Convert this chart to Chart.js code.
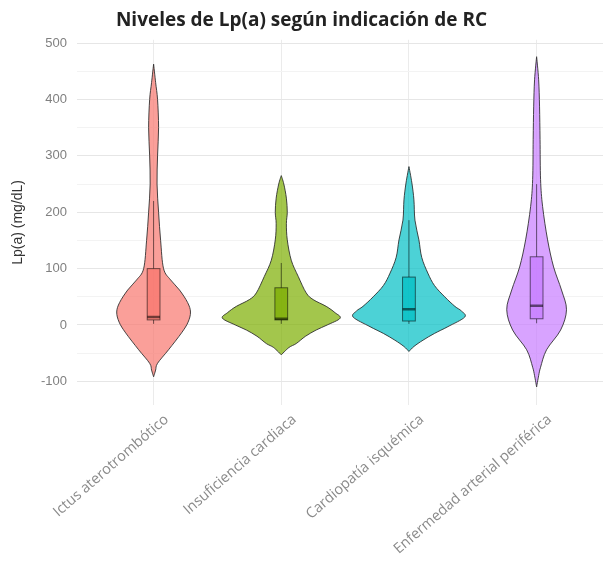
<!DOCTYPE html>
<html>
<head>
<meta charset="utf-8">
<script src="https://cdn.jsdelivr.net/npm/chart.js@4.4.1/dist/chart.umd.min.js"></script>
<style>
  html, body { margin: 0; padding: 0; background: #fff; }
  #wrap { width: 603px; height: 573px; }
</style>
</head>
<body>
<div id="wrap"><canvas id="myChart"></canvas></div>
<script>
const categories = ["Ictus aterotrombótico", "Insuficiencia cardiaca", "Cardiopatía isquémica", "Enfermedad arterial periférica"];
const yTicks = [-100, 0, 100, 200, 300, 400, 500];

// violin outline: Lp(a) value and half width (in category units)
const ictusY = [-92, -80, -68, -44, -14, 5, 23, 40, 62, 80, 100, 150, 200, 250, 300, 350, 400, 430, 463];
const ictusW = [0, 0.016, 0.031, 0.117, 0.219, 0.27, 0.289, 0.266, 0.203, 0.133, 0.078, 0.055, 0.039, 0.027, 0.031, 0.039, 0.031, 0.016, 0];
const insufY = [-53, -40, -33, -20, -9, 0, 12, 22, 33, 45, 57, 86, 115, 151, 180, 200, 225, 250, 265];
const insufW = [0, 0.06, 0.117, 0.19, 0.273, 0.36, 0.461, 0.42, 0.352, 0.25, 0.195, 0.133, 0.078, 0.047, 0.04, 0.047, 0.04, 0.02, 0];
const cardioY = [-47, -38, -27, -15, -3, 14, 25, 33, 50, 70, 92, 120, 151, 186, 222, 252, 281];
const cardioW = [0, 0.04, 0.11, 0.2, 0.305, 0.437, 0.41, 0.36, 0.28, 0.2, 0.148, 0.1, 0.078, 0.047, 0.039, 0.023, 0];
const eapY = [-110, -90, -75, -44, -9, 27, 62, 103, 151, 210, 258, 329, 387, 435, 476];
const eapW = [0, 0.016, 0.031, 0.078, 0.188, 0.234, 0.195, 0.133, 0.086, 0.047, 0.031, 0.027, 0.023, 0.016, 0];

// box plot stats
const whiskerLow = [2, 2, 2, 3];
const q1 = [9, 9, 7, 11];
const median = [14, 11, 28, 34];
const q3 = [100, 66, 85, 121];
const whiskerHigh = [220, 110, 186, 250];

const baseColors = ["248,118,109", "124,174,0", "0,191,196", "199,124,255"];

const violinY = [ictusY, insufY, cardioY, eapY];
const violinW = [ictusW, insufW, cardioW, eapW];

// closed Catmull-Rom path, sharp at the tip points
function smoothClosed(ctx, pts, tips) {
  const n = pts.length;
  ctx.moveTo(pts[0][0], pts[0][1]);
  for (let i = 0; i < n; i++) {
    const i2 = (i + 1) % n;
    const p0 = pts[(i - 1 + n) % n], p1 = pts[i], p2 = pts[i2], p3 = pts[(i + 2) % n];
    const c1 = tips.includes(i) ? p1 : [p1[0] + (p2[0] - p0[0]) / 6, p1[1] + (p2[1] - p0[1]) / 6];
    const c2 = tips.includes(i2) ? p2 : [p2[0] - (p3[0] - p1[0]) / 6, p2[1] - (p3[1] - p1[1]) / 6];
    ctx.bezierCurveTo(c1[0], c1[1], c2[0], c2[1], p2[0], p2[1]);
  }
  ctx.closePath();
}

const violinPlugin = {
  id: "violins",
  beforeDatasetsDraw(chart) {
    const { ctx, chartArea, scales: { x, y } } = chart;
    ctx.save();
    ctx.beginPath();
    ctx.rect(chartArea.left, chartArea.top, chartArea.width, chartArea.height);
    ctx.clip();
    categories.forEach((c, i) => {
      const pos = i + 1;
      const ys = violinY[i], ws = violinW[i];
      const pts = [];
      for (let k = 0; k < ys.length; k++) pts.push([x.getPixelForValue(pos + ws[k]), y.getPixelForValue(ys[k])]);
      for (let k = ys.length - 2; k > 0; k--) pts.push([x.getPixelForValue(pos - ws[k]), y.getPixelForValue(ys[k])]);
      ctx.beginPath();
      smoothClosed(ctx, pts, [0, ys.length - 1]);
      ctx.fillStyle = "rgba(" + baseColors[i] + ",0.7)";
      ctx.fill();
      ctx.lineWidth = 1;
      ctx.strokeStyle = "rgba(40,40,40,0.85)";
      ctx.stroke();

      // box plot
      const bw = 0.05;
      const xl = x.getPixelForValue(pos - bw), xr = x.getPixelForValue(pos + bw), xc = x.getPixelForValue(pos);
      const yq1 = y.getPixelForValue(q1[i]), yq3 = y.getPixelForValue(q3[i]);
      ctx.strokeStyle = "rgba(0,0,0,0.55)";
      ctx.beginPath();
      ctx.moveTo(xc, yq3); ctx.lineTo(xc, y.getPixelForValue(whiskerHigh[i]));
      ctx.moveTo(xc, yq1); ctx.lineTo(xc, y.getPixelForValue(whiskerLow[i]));
      ctx.stroke();
      ctx.fillStyle = "rgba(" + baseColors[i] + ",0.75)";
      ctx.fillRect(xl, yq3, xr - xl, yq1 - yq3);
      ctx.strokeRect(xl, yq3, xr - xl, yq1 - yq3);
      ctx.lineWidth = 2.5;
      ctx.beginPath();
      ctx.moveTo(xl, y.getPixelForValue(median[i]));
      ctx.lineTo(xr, y.getPixelForValue(median[i]));
      ctx.stroke();
    });
    ctx.restore();
  }
};

const yGrid = yTicks.concat(yTicks.slice(1).map((v, i) => (v + yTicks[i]) / 2)).sort((a, b) => a - b);

new Chart("myChart", {
  type: "scatter",
  data: {
    datasets: [{
      data: median.map((m, i) => ({ x: i + 1, y: m })),
      pointRadius: 0,
      showLine: false
    }]
  },
  options: {
    responsive: true,
    maintainAspectRatio: false,
    animation: false,
    layout: { padding: 0 },
    plugins: {
      legend: { display: false },
      tooltip: { enabled: false },
      title: {
        display: true,
        text: "Niveles de Lp(a) según indicación de RC",
        color: "#222",
        font: { family: "Open Sans", weight: "bold", size: 19 },
        padding: { top: 9, bottom: 8 }
      }
    },
    scales: {
      x: {
        type: "linear",
        min: 0.4,
        max: 4.52,
        afterBuildTicks: s => { s.ticks = categories.map((c, i) => ({ value: i + 1 })); },
        afterFit: s => { s.height = 168; },
        ticks: {
          autoSkip: false,
          minRotation: 41,
          maxRotation: 41,
          padding: 6,
          labelOffset: 13,
          color: "#8a8a8a",
          font: { family: "Open Sans", size: 14.5 },
          callback: v => categories[v - 1] || ""
        },
        grid: { color: "#ebebeb", drawTicks: false },
        border: { display: false }
      },
      y: {
        min: -142,
        max: 506,
        afterBuildTicks: s => { s.ticks = yGrid.map(v => ({ value: v })); },
        afterFit: s => { s.width = 77; },
        ticks: {
          padding: 10,
          color: "#808080",
          font: { family: "Liberation Sans", size: 13 },
          callback: v => yTicks.includes(v) ? v : ""
        },
        grid: {
          drawTicks: false,
          color: c => yTicks.includes(c.tick.value) ? "#e6e6e6" : "#f3f3f3"
        },
        border: { display: false },
        title: {
          display: true,
          text: "Lp(a) (mg/dL)",
          color: "#333",
          font: { family: "Liberation Sans", size: 14 },
          padding: { top: 10, bottom: 0 }
        }
      }
    }
  },
  plugins: [violinPlugin]
});
</script>
</body>
</html>
